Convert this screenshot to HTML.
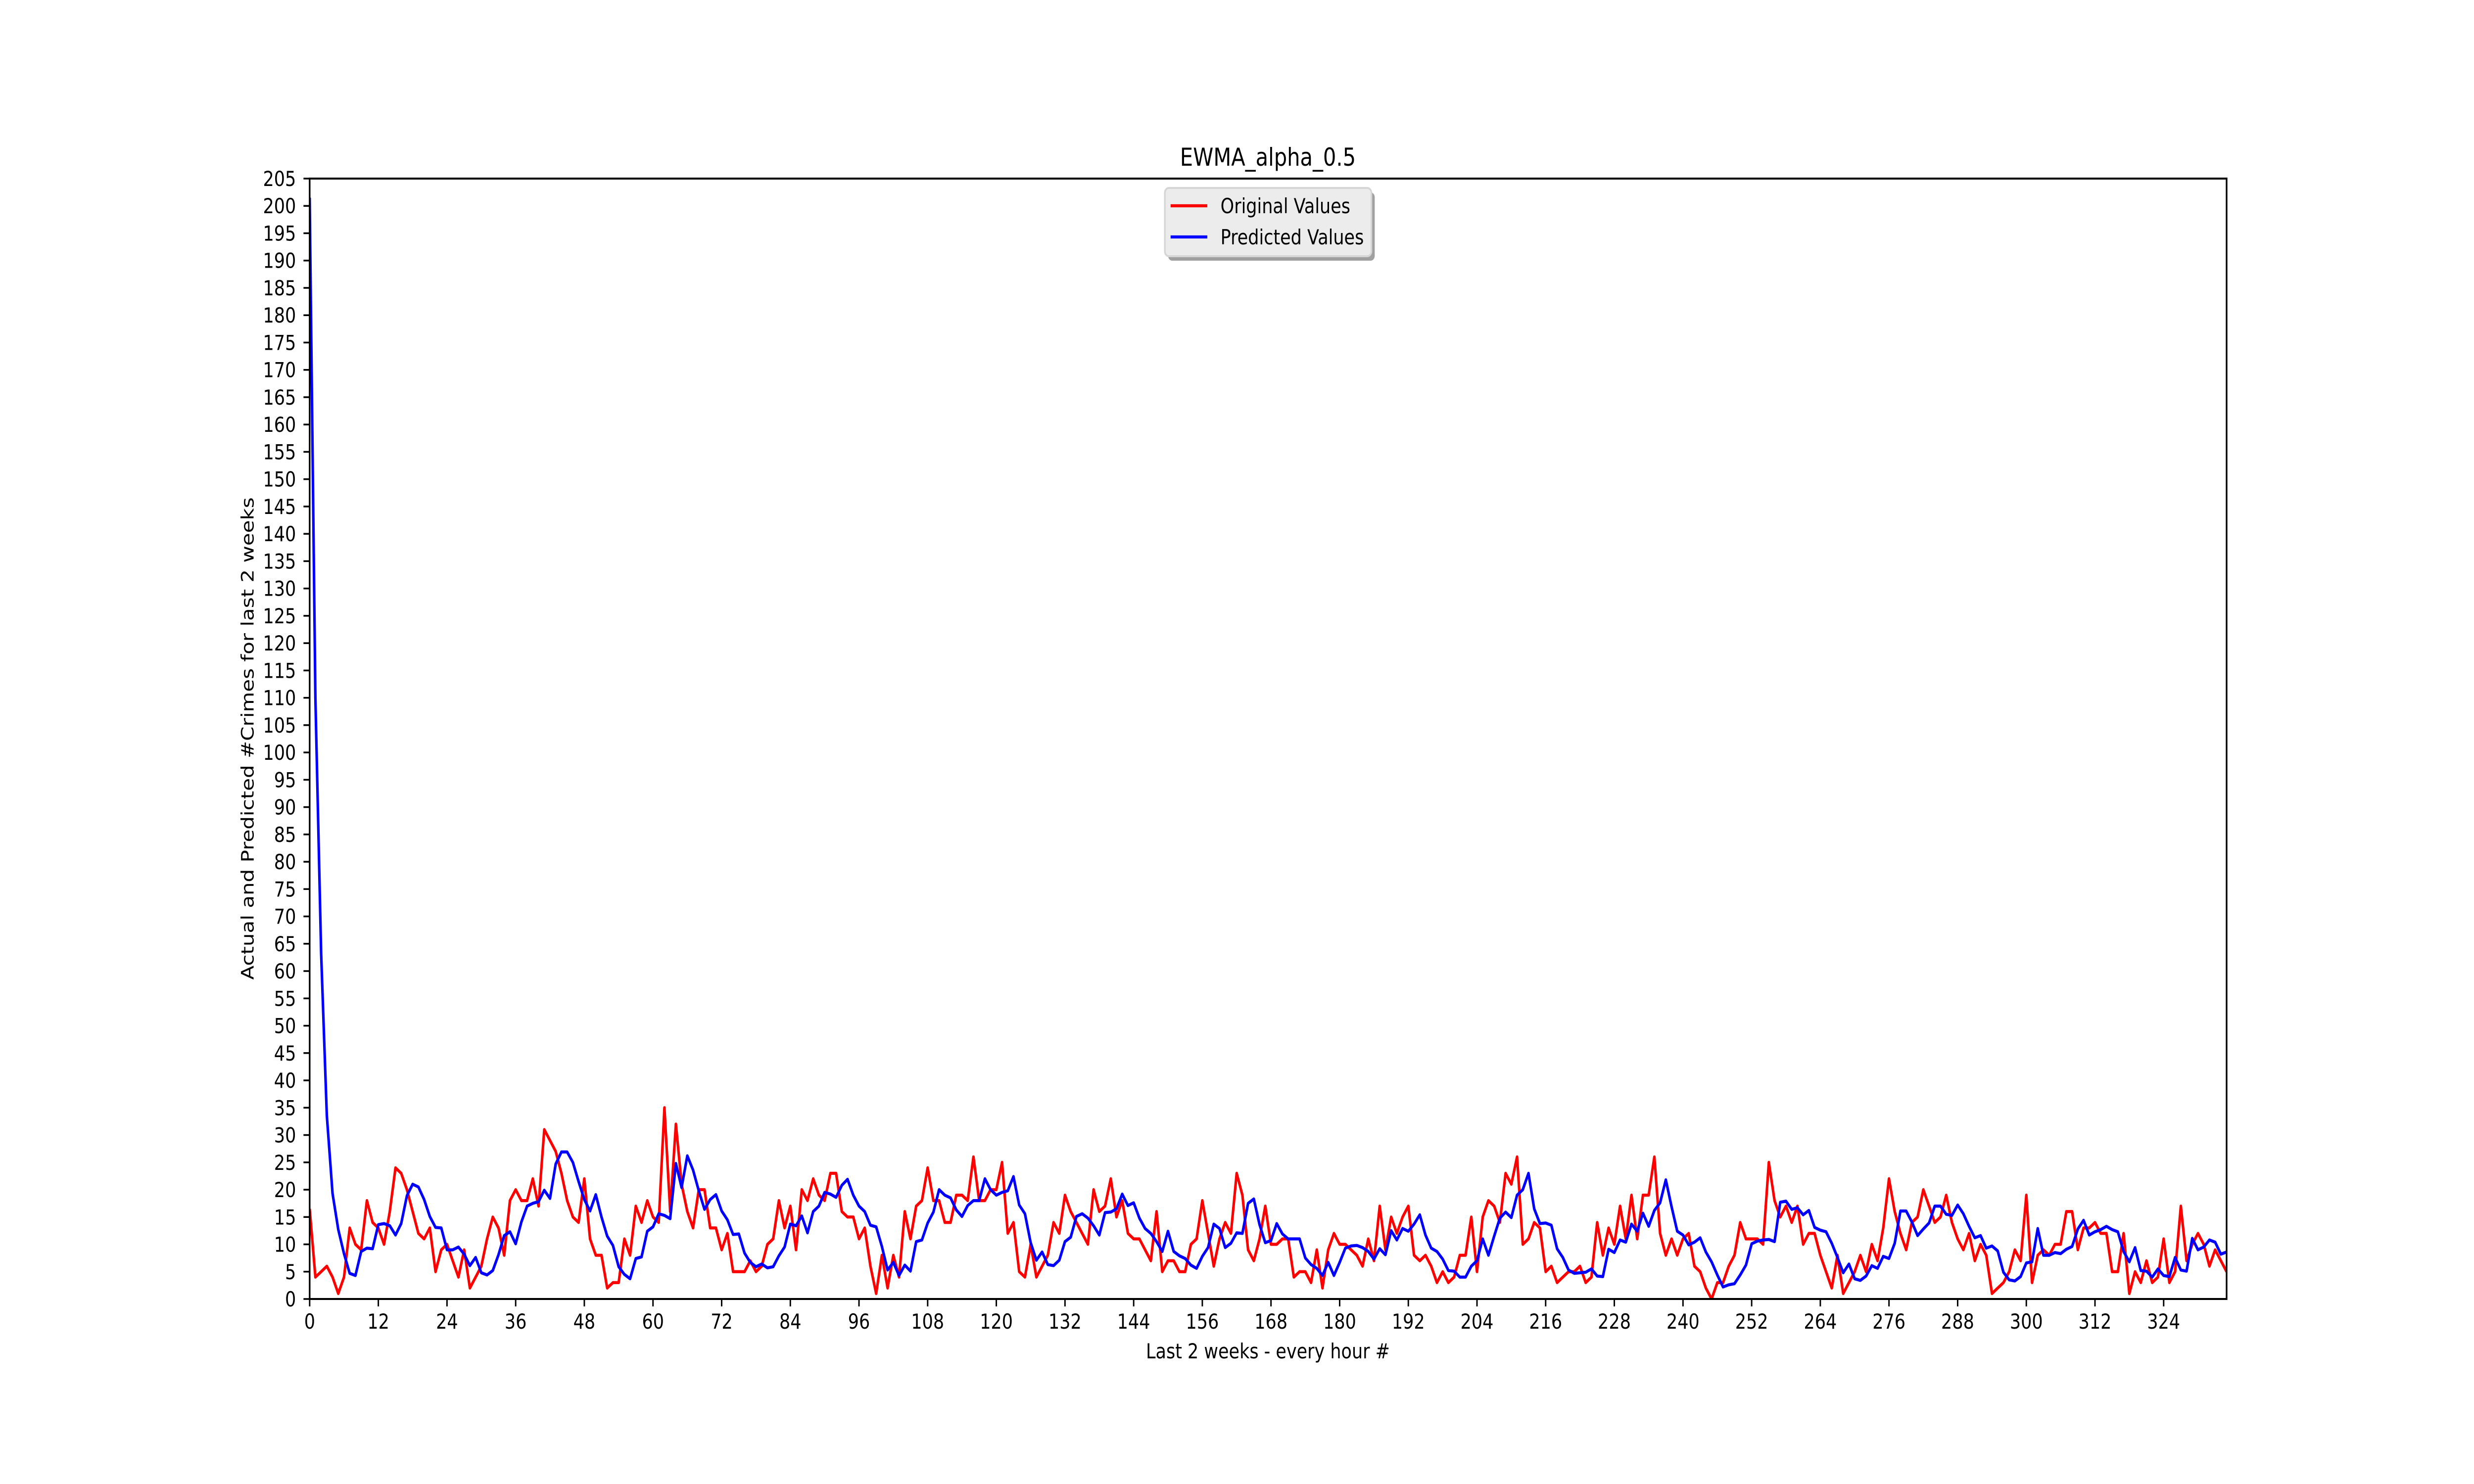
<!DOCTYPE html>
<html>
<head>
<meta charset="utf-8">
<style>
  html,body{margin:0;padding:0;background:#fff;width:100%;height:100%;overflow:hidden;}
  svg{display:block;width:100vw;height:100vh;}
  text{font-family:"DejaVu Sans","Liberation Sans",sans-serif;fill:#000;}
</style>
</head>
<body>
<svg id="chart" viewBox="0 0 6000 3000" preserveAspectRatio="none" xmlns="http://www.w3.org/2000/svg">
  <rect x="0" y="0" width="6000" height="3000" fill="#fff"/>
  <text x="3075" y="335" font-size="50" text-anchor="middle">EWMA_alpha_0.5</text>
  <g id="plot"></g>
  <g id="yticks"></g>
  <g id="xticks"></g>
  <text x="3075" y="2746" font-size="42" text-anchor="middle">Last 2 weeks - every hour #</text>
  <text x="0" y="0" font-size="42" text-anchor="middle" transform="translate(615,1493) rotate(-90)">Actual and Predicted #Crimes for last 2 weeks</text>
  <g>
    <rect x="2833" y="389" width="501" height="138" rx="10" fill="#a0a0a0"/>
    <rect x="2825" y="380" width="501" height="138" rx="10" fill="#ececec" stroke="#d6d6d6" stroke-width="4"/>
    <line x1="2839" y1="416" x2="2928" y2="416" stroke="#ff0000" stroke-width="6.25"/>
    <text x="2960" y="431" font-size="42">Original Values</text>
    <line x1="2839" y1="479" x2="2928" y2="479" stroke="#0000ff" stroke-width="6.25"/>
    <text x="2960" y="494" font-size="42">Predicted Values</text>
  </g>
</svg>
<script>
const actualValues = [16.5,4,5,6,4,1,4,13,10,9,
18,14,13,10,16,24,23,20,16,12,
11,13,5,9,10,7,4,9,2,4,
6,11,15,13,8,18,20,18,18,22,
17,31,29,27,23,18,15,14,22,11,
8,8,2,3,3,11,8,17,14,18,
15,14,35,16,32,21,16,13,20,20,
13,13,9,12,5,5,5,7,5,6,
10,11,18,13,17,9,20,18,22,19,
18,23,23,16,15,15,11,13,6,1,
8,2,8,4,16,11,17,18,24,18,
18,14,14,19,19,18,26,18,18,20,
20,25,12,14,5,4,10,4,6,8,
14,12,19,16,14,12,10,20,16,17,
22,15,18,12,11,11,9,7,16,5,
7,7,5,5,10,11,18,12,6,11,
14,12,23,19,9,7,11,17,10,10,
11,11,4,5,5,3,9,2,9,12,
10,10,9,8,6,11,7,17,9,15,
12,15,17,8,7,8,6,3,5,3,
4,8,8,15,5,15,18,17,14,23,
21,26,10,11,14,13,5,6,3,4,
5,5,6,3,4,14,8,13,10,17,
11,19,11,19,19,26,12,8,11,8,
11,12,6,5,2,0,3,3,6,8,
14,11,11,11,10,25,18,15,17,14,
17,10,12,12,8,5,2,8,1,3,
5,8,5,10,7,13,22,16,12,9,
14,15,20,17,14,15,19,14,11,9,
12,7,10,8,1,2,3,5,9,7,
19,3,8,9,8,10,10,16,16,9,
13,13,14,12,12,5,5,12,1,5,
3,7,3,4,11,3,5,17,7,10,
12,10,6,9,7,5];
const predictedValues = [201.5,110,63.3,33.6,19.3,12.7,8.3,4.7,4.3,8.7,
9.3,9.2,13.6,13.8,13.4,11.7,13.8,18.9,21.0,20.5,
18.2,15.1,13.1,13.0,9.0,9.0,9.5,8.2,6.1,7.6,
4.8,4.4,5.2,8.1,11.6,12.3,10.1,14.1,17.0,17.5,
17.8,19.9,18.4,24.7,26.9,26.9,25.0,21.5,18.2,16.1,
19.1,15.0,11.5,9.8,5.9,4.5,3.7,7.4,7.7,12.4,
13.2,15.6,15.3,14.7,24.8,20.4,26.2,23.6,19.8,16.4,
18.2,19.1,16.1,14.5,11.8,11.9,8.4,6.7,5.9,6.4,
5.7,5.9,7.9,9.5,13.7,13.4,15.2,12.1,16.0,17.0,
19.5,19.2,18.6,20.8,21.9,19.0,17.0,16.0,13.5,13.2,
9.6,5.3,6.7,4.3,6.2,5.1,10.5,10.8,13.9,15.9,
20.0,19.0,18.5,16.3,15.1,17.1,18.0,18.0,22.0,20.0,
19.0,19.5,19.8,22.4,17.2,15.6,10.3,7.1,8.6,6.3,
6.1,7.1,10.5,11.3,15.1,15.6,14.8,13.4,11.7,15.8,
15.9,16.5,19.2,17.1,17.6,14.8,12.9,12.0,10.5,8.7,
12.4,8.7,7.9,7.4,6.2,5.6,7.8,9.4,13.7,12.9,
9.4,10.2,12.1,12.0,17.5,18.3,13.6,10.3,10.7,13.8,
11.9,11.0,11.0,11.0,7.5,6.3,5.6,4.3,6.7,4.3,
6.7,9.3,9.7,9.8,9.4,8.7,7.3,9.2,8.1,12.5,
10.8,12.9,12.4,13.7,15.4,11.7,9.3,8.7,7.3,5.2,
5.1,4.0,4.0,6.0,7.0,11.0,8.0,11.5,14.8,15.9,
14.9,19.0,20.0,23.0,16.5,13.8,13.9,13.5,9.2,7.6,
5.3,4.7,4.8,4.9,5.5,4.2,4.1,9.1,8.5,10.8,
10.4,13.7,12.4,15.7,13.3,16.2,17.6,21.8,16.9,12.4,
11.7,9.9,10.4,11.2,8.6,6.8,4.4,2.2,2.6,2.8,
4.4,6.2,10.1,10.6,10.8,10.9,10.5,17.7,17.9,16.4,
16.7,15.4,16.2,13.1,12.6,12.3,10.2,7.6,4.8,6.4,
3.7,3.4,4.2,6.1,5.6,7.8,7.4,10.2,16.1,16.1,
14.1,11.6,12.8,13.9,17.0,17.0,15.5,15.3,17.2,15.6,
13.3,11.2,11.6,9.3,9.7,8.8,4.9,3.5,3.3,4.1,
6.6,6.8,12.9,8.0,8.0,8.5,8.3,9.1,9.6,12.8,
14.4,11.7,12.3,12.7,13.3,12.7,12.3,8.7,6.8,9.4,
5.2,5.1,4.0,5.5,4.3,4.1,7.6,5.3,5.1,11.1,
9.0,9.5,10.8,10.4,8.2,8.6];
const xTickValues = [0,12,24,36,48,60,72,84,96,108,120,132,144,156,168,180,192,204,216,228,240,252,264,276,288,300,312,324];
const yTickValues = [0,5,10,15,20,25,30,35,40,45,50,55,60,65,70,75,80,85,90,95,100,105,110,115,120,125,130,135,140,145,150,155,160,165,170,175,180,185,190,195,200,205];
const xDomain = [0, 335];
const yDomain = [0, 205];

const NS = 'http://www.w3.org/2000/svg';
const L = 751, R = 5400, T = 361, B = 2626;
function xScale(v){ return L + (v - xDomain[0]) / (xDomain[1] - xDomain[0]) * (R - L); }
function yScale(v){ return B - (v - yDomain[0]) / (yDomain[1] - yDomain[0]) * (B - T); }
function mk(tag, attrs){ const e = document.createElementNS(NS, tag); for (const k in attrs) e.setAttribute(k, attrs[k]); return e; }

const plot = document.getElementById('plot');
const clip = mk('clipPath', {id:'clipArea'});
clip.appendChild(mk('rect', {x:L, y:T, width:R-L, height:B-T}));
const defs = mk('defs', {}); defs.appendChild(clip); plot.appendChild(defs);

function drawSeries(vals, color, name){
  const pts = vals.map((v,i) => xScale(i).toFixed(1) + ',' + yScale(v).toFixed(1)).join(' ');
  const pl = mk('polyline', {points:pts, fill:'none', stroke:color, 'stroke-width':6.25, 'stroke-linejoin':'round', 'clip-path':'url(#clipArea)'});
  
  
  plot.appendChild(pl);
}
drawSeries(actualValues, '#ff0000', 'original-values-line');
drawSeries(predictedValues, '#0000ff', 'predicted-values-line');

const frame = mk('rect', {x:L, y:T, width:R-L, height:B-T, fill:'none', stroke:'#000', 'stroke-width':4});


plot.appendChild(frame);

const yg = document.getElementById('yticks');
yTickValues.forEach(v => {
  const y = yScale(v);
  const t = mk('line', {x1:L-15, y1:y, x2:L, y2:y, stroke:'#000', 'stroke-width':3.5});
  
  
  yg.appendChild(t);
  const lb = mk('text', {x:L-33, y:y+15, 'font-size':42, 'text-anchor':'end'});
  lb.textContent = String(v);
  
  
  yg.appendChild(lb);
});
const xg = document.getElementById('xticks');
xTickValues.forEach(v => {
  const x = xScale(v);
  const t = mk('line', {x1:x, y1:B, x2:x, y2:B+15, stroke:'#000', 'stroke-width':3.5});
  
  
  xg.appendChild(t);
  const lb = mk('text', {x:x, y:2686, 'font-size':42, 'text-anchor':'middle'});
  lb.textContent = String(v);
  
  
  xg.appendChild(lb);
});
</script>
</body>
</html>
